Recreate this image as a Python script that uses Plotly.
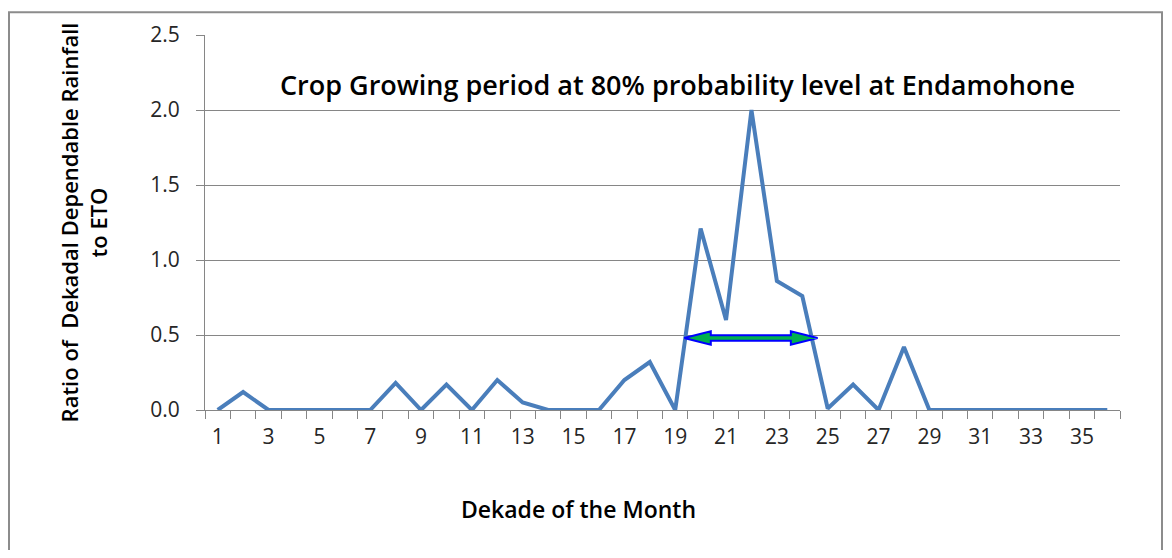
import plotly.graph_objects as go

# Dados
dekades = list(range(1, 37))
ratio = [0, 0.12, 0, 0, 0, 0, 0, 0.18, 0, 0.17, 0, 0.2, 0.05, 0, 0, 0,
         0.2, 0.32, 0, 1.21, 0.6, 2.0, 0.86, 0.76, 0.01, 0.17, 0, 0.42,
         0, 0, 0, 0, 0, 0, 0, 0]
tick_labels = [str(d) for d in range(1, 37, 2)]
y_ticks = [0.0, 0.5, 1.0, 1.5, 2.0, 2.5]

# Período de crescimento (seta dupla)
arrow_start = 19.35
arrow_end = 24.6
arrow_level = 0.48

title_text = "Crop Growing period at 80% probability level at Endamohone"
x_title = "Dekade of the Month"
y_title = "Ratio of&nbsp; Dekadal Dependable Rainfall<br>to ETO"

fig = go.Figure()

fig.add_trace(go.Scatter(
    x=dekades,
    y=ratio,
    mode='lines',
    line=dict(color='#4A7EBB', width=4),
    showlegend=False
))

# Seta dupla: polígono verde com contorno azul
head_len = 1.05
head_h = 0.045
shaft_h = 0.018
ax = [arrow_start, arrow_start + head_len, arrow_start + head_len,
      arrow_end - head_len, arrow_end - head_len, arrow_end,
      arrow_end - head_len, arrow_end - head_len,
      arrow_start + head_len, arrow_start + head_len, arrow_start]
ay = [arrow_level, arrow_level + head_h, arrow_level + shaft_h,
      arrow_level + shaft_h, arrow_level + head_h, arrow_level,
      arrow_level - head_h, arrow_level - shaft_h,
      arrow_level - shaft_h, arrow_level - head_h, arrow_level]
fig.add_trace(go.Scatter(
    x=ax, y=ay,
    mode='lines',
    fill='toself',
    fillcolor='#00B050',
    line=dict(color='#0000FF', width=2),
    showlegend=False,
    hoverinfo='skip'
))

# Título dentro da área do gráfico
fig.add_annotation(
    x=(677 - 205) / 915, y=1 - (82 - 32) / 378, xref='paper', yref='paper',
    text=title_text,
    showarrow=False,
    font=dict(family='Open Sans', size=27, color='#000000', weight=600),
    xanchor='center', yanchor='middle'
)

# Título do eixo x (deslocado para a esquerda, como no original)
fig.add_annotation(
    x=(578 - 205) / 915, y=1 - (510 - 32) / 378, xref='paper', yref='paper',
    text=x_title,
    showarrow=False,
    font=dict(family='Open Sans', size=23, color='#000000', weight=600),
    xanchor='center', yanchor='middle'
)

# Moldura externa
fig.add_shape(
    type='rect', xref='paper', yref='paper',
    x0=(9 - 205) / 915, x1=(1162 - 205) / 915, y0=-0.45, y1=1 + (32 - 9) / 378,
    line=dict(color='#8C8C8C', width=2),
    layer='below'
)

fig.update_layout(
    width=1156,
    height=542,
    margin=dict(l=197, r=44, t=24, b=140),
    plot_bgcolor='white',
    paper_bgcolor='white',
    font=dict(family='Open Sans', color='#262626'),
    xaxis=dict(
        range=[0.5, 36.5],
        tickvals=list(range(1, 37, 2)),
        ticktext=tick_labels,
        ticks='',
        ticklabelstandoff=8,
        showgrid=False,
        zeroline=False,
        showline=True,
        linecolor='#868686',
        linewidth=1,
        tickfont=dict(size=21, color='#262626'),
        minor=dict(tickvals=[d + 0.5 for d in range(0, 37)], ticks='outside',
                   ticklen=8, tickcolor='#868686', showgrid=False),
    ),
    yaxis=dict(
        range=[0, 2.5],
        tickvals=y_ticks,
        tickformat='.1f',
        ticks='outside',
        ticklen=8,
        ticklabelstandoff=12,
        tickcolor='#868686',
        showgrid=True,
        gridcolor='#868686',
        gridwidth=1,
        zeroline=False,
        showline=True,
        linecolor='#868686',
        tickfont=dict(size=21, color='#262626'),
        title=dict(text=y_title, standoff=36,
                   font=dict(size=22, color='#000000', weight=600)),
    ),
)

fig.write_html("out.html")
